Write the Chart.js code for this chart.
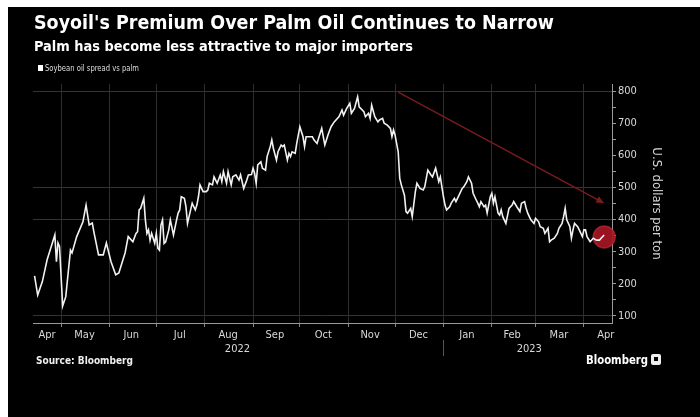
<!DOCTYPE html>
<html>
<head>
<meta charset="utf-8">
<script src="https://cdn.jsdelivr.net/npm/chart.js@4.4.0/dist/chart.umd.min.js"></script>
<style>
  html, body { margin: 0; padding: 0; width: 700px; height: 417px; overflow: hidden; background: #fff; }
  #panel { position: absolute; left: 8px; top: 7px; width: 692px; height: 410px; background: #000; }
  #box { position: absolute; left: 0; top: 0; width: 700px; height: 417px; }
  .t { position: absolute; color: #fff; white-space: nowrap; line-height: 1; transform-origin: 0 0;
       font-family: 'DejaVu Sans Condensed', 'DejaVu Sans', sans-serif; }
  #title { left: 34px; top: 12px; font-size: 20px; font-weight: bold; }
  #subtitle { left: 34px; top: 39px; font-size: 14px; font-weight: bold; }
  #legend { left: 45px; top: 64px; font-size: 9px; color: #ddd; }
  #legendBox { position: absolute; left: 38px; top: 65px; width: 5px; height: 6px; background: #fff; }
  #source { left: 36px; top: 356px; font-size: 10px; font-weight: bold; color: #eee; }
  #brand { left: 586px; top: 353px; font-size: 13px; font-weight: bold; }
  #brandIcon { position: absolute; left: 651px; top: 354px; width: 10px; height: 11px; background: #eee; border-radius: 2px; }
  #brandIcon i { position: absolute; left: 3px; top: 3px; width: 4px; height: 4px; background: #000; }
</style>
</head>
<body>
<div id="panel"></div>
<div id="box"><canvas id="chart"></canvas></div>
<div class="t" id="title">Soyoil's Premium Over Palm Oil Continues to Narrow</div>
<div class="t" id="subtitle">Palm has become less attractive to major importers</div>
<div id="legendBox"></div>
<div class="t" id="legend">Soybean oil spread vs palm</div>
<div class="t" id="source">Source: Bloomberg</div>
<div class="t" id="brand">Bloomberg</div>
<div id="brandIcon"><i></i></div>
<script>
// soybean oil minus palm oil, US$ per ton
const dates = [
  '2022-04-14','2022-04-16','2022-04-19','2022-04-22','2022-04-27','2022-04-28','2022-04-29','2022-04-30',
  '2022-05-02','2022-05-04','2022-05-07','2022-05-08','2022-05-11','2022-05-15','2022-05-17','2022-05-19','2022-05-21','2022-05-22','2022-05-25','2022-05-28','2022-05-30',
  '2022-06-02','2022-06-05','2022-06-07','2022-06-11','2022-06-13','2022-06-16','2022-06-18','2022-06-19','2022-06-20','2022-06-21','2022-06-23','2022-06-24','2022-06-25','2022-06-26','2022-06-27','2022-06-28','2022-06-30',
  '2022-07-01','2022-07-02','2022-07-03','2022-07-04','2022-07-05','2022-07-06','2022-07-07','2022-07-09','2022-07-10','2022-07-12','2022-07-14','2022-07-15','2022-07-16','2022-07-17','2022-07-19','2022-07-20','2022-07-21','2022-07-22','2022-07-24','2022-07-25','2022-07-26','2022-07-27','2022-07-28','2022-07-29','2022-07-31',
  '2022-08-02','2022-08-03','2022-08-04','2022-08-06','2022-08-07','2022-08-09','2022-08-11','2022-08-12','2022-08-13','2022-08-15','2022-08-16','2022-08-18','2022-08-19','2022-08-21','2022-08-23','2022-08-24','2022-08-26','2022-08-28','2022-08-29','2022-08-31',
  '2022-09-01','2022-09-02','2022-09-03','2022-09-04','2022-09-06','2022-09-07','2022-09-09','2022-09-10','2022-09-12','2022-09-13','2022-09-14','2022-09-16','2022-09-17','2022-09-19','2022-09-20','2022-09-21','2022-09-23','2022-09-24','2022-09-25','2022-09-26','2022-09-28','2022-09-29',
  '2022-10-01','2022-10-03','2022-10-04','2022-10-05','2022-10-07','2022-10-09','2022-10-10','2022-10-12','2022-10-13','2022-10-15','2022-10-17','2022-10-19','2022-10-21','2022-10-23','2022-10-26','2022-10-28','2022-10-29','2022-10-31',
  '2022-11-02','2022-11-03','2022-11-05','2022-11-07','2022-11-08','2022-11-11','2022-11-12','2022-11-14','2022-11-15','2022-11-16','2022-11-18','2022-11-20','2022-11-21','2022-11-23','2022-11-24','2022-11-26','2022-11-28','2022-11-29','2022-11-30',
  '2022-12-01','2022-12-03','2022-12-04','2022-12-05','2022-12-07','2022-12-08','2022-12-09','2022-12-11','2022-12-12','2022-12-14','2022-12-15','2022-12-17','2022-12-19','2022-12-20','2022-12-22','2022-12-24','2022-12-25','2022-12-27','2022-12-28','2022-12-29','2022-12-30','2022-12-31',
  '2023-01-01','2023-01-02','2023-01-03','2023-01-05','2023-01-06','2023-01-08','2023-01-09','2023-01-11','2023-01-13','2023-01-14','2023-01-16','2023-01-17','2023-01-19','2023-01-20','2023-01-22','2023-01-23','2023-01-24','2023-01-25','2023-01-27','2023-01-28','2023-01-29','2023-01-31',
  '2023-02-01','2023-02-02','2023-02-03','2023-02-05','2023-02-06','2023-02-07','2023-02-08','2023-02-10','2023-02-12','2023-02-14','2023-02-15','2023-02-17','2023-02-19','2023-02-20','2023-02-22','2023-02-23','2023-02-24','2023-02-26','2023-02-28',
  '2023-03-01','2023-03-03','2023-03-04','2023-03-06','2023-03-07','2023-03-09','2023-03-10','2023-03-11','2023-03-13','2023-03-15','2023-03-16','2023-03-18','2023-03-19','2023-03-20','2023-03-21','2023-03-23','2023-03-24','2023-03-25','2023-03-26','2023-03-28','2023-03-29','2023-03-31',
  '2023-04-01','2023-04-02','2023-04-03','2023-04-05','2023-04-07','2023-04-09','2023-04-11','2023-04-12','2023-04-14'
];
const spread = [
  225,165,207,274,352,269,327,316,
  131,160,305,296,347,393,445,383,389,362,290,290,327,
  269,228,234,296,347,331,357,362,430,435,466,399,357,368,336,357,326,
  357,311,305,383,399,326,331,368,399,352,399,420,430,471,466,440,388,409,451,440,430,445,471,508,487,
  487,492,513,508,533,513,539,518,549,513,549,508,533,539,523,539,497,523,539,540,
  560,544,513,570,580,560,554,596,627,648,622,585,611,632,627,632,585,606,596,611,606,637,
  689,658,627,658,658,658,648,637,653,684,632,663,689,704,720,741,725,746,
  762,731,746,782,751,736,720,731,715,756,720,704,710,715,700,694,684,658,679,
  663,611,528,508,476,425,420,435,409,487,513,497,492,502,554,539,533,560,539,518,533,502,
  471,445,430,440,451,466,456,476,497,502,518,533,513,482,461,451,440,456,440,445,420,471,
  482,451,471,420,414,430,409,388,435,445,456,440,425,451,456,435,420,399,388,
  404,393,378,373,357,373,331,336,342,357,373,388,409,435,399,378,342,368,388,378,368,347,
  368,368,347,331,342,336,336,342,352
];

const monthStarts = ['2022-05-01','2022-06-01','2022-07-01','2022-08-01','2022-09-01','2022-10-01',
  '2022-11-01','2022-12-01','2023-01-01','2023-02-01','2023-03-01','2023-04-01'];
const monthLabels = ['Apr','May','Jun','Jul','Aug','Sep','Oct','Nov','Dec','Jan','Feb','Mar','Apr'];
const monthLabelDates = ['2022-04-22','2022-05-16','2022-06-15','2022-07-16','2022-08-16','2022-09-15',
  '2022-10-16','2022-11-15','2022-12-16','2023-01-16','2023-02-14','2023-03-16','2023-04-15'];
const yearLabels = ['2022','2023'];
const yearLabelDates = ['2022-08-22','2023-02-25'];
const yearBreak = '2023-01-01';
const xRange = ['2022-04-13','2023-04-19'];

const yTicks = [100,150,200,250,300,350,400,450,500,550,600,650,700,750,800];
const yGridAt = [100,400,500,800];

// trend arrow (data space) and the highlighted latest point
const arrowFrom = ['2022-12-03', 797];
const arrowTo = ['2023-04-14', 451];

const dayOf = s => (Date.parse(s) - Date.parse('2022-05-01')) / 864e5;

const xTicks = [
  ...monthStarts.map(d => ({ value: dayOf(d), label: '', start: true })),
  ...monthLabelDates.map((d, i) => ({ value: dayOf(d), label: monthLabels[i] })),
  ...yearLabelDates.map((d, i) => ({ value: dayOf(d), label: ['', yearLabels[i]] }))
].sort((a, b) => a.value - b.value);

const FONT = "'Liberation Sans Narrow', 'DejaVu Sans Condensed', sans-serif";
const CLEAR = 'rgba(0,0,0,0)';

const extras = {
  id: 'extras',
  beforeDatasetsDraw(chart) {
    const { ctx, scales: { x, y } } = chart;
    const last = dates.length - 1;
    const cx = x.getPixelForValue(dayOf(dates[last]));
    const cy = y.getPixelForValue(spread[last]);
    ctx.save();
    ctx.beginPath();
    ctx.arc(cx, cy + 2, 11, 0, Math.PI * 2);
    ctx.fillStyle = 'rgba(165,22,36,0.92)';
    ctx.fill();
    ctx.lineWidth = 1.5;
    ctx.strokeStyle = 'rgba(205,45,55,0.6)';
    ctx.stroke();

    const x1 = x.getPixelForValue(dayOf(arrowFrom[0])), y1 = y.getPixelForValue(arrowFrom[1]);
    const x2 = x.getPixelForValue(dayOf(arrowTo[0])), y2 = y.getPixelForValue(arrowTo[1]);
    const a = Math.atan2(y2 - y1, x2 - x1);
    ctx.strokeStyle = '#7a1b1e';
    ctx.fillStyle = '#7a1b1e';
    ctx.lineWidth = 1.4;
    ctx.beginPath();
    ctx.moveTo(x1, y1);
    ctx.lineTo(x2 - 5 * Math.cos(a), y2 - 5 * Math.sin(a));
    ctx.stroke();
    ctx.beginPath();
    ctx.moveTo(x2, y2);
    ctx.lineTo(x2 - 8 * Math.cos(a) + 3.5 * Math.sin(a), y2 - 8 * Math.sin(a) - 3.5 * Math.cos(a));
    ctx.lineTo(x2 - 8 * Math.cos(a) - 3.5 * Math.sin(a), y2 - 8 * Math.sin(a) + 3.5 * Math.cos(a));
    ctx.closePath();
    ctx.fill();
    ctx.restore();
  },
  afterDraw(chart) {
    const { ctx, chartArea, scales: { x } } = chart;
    const px = Math.round(x.getPixelForValue(dayOf(yearBreak))) + 0.5;
    ctx.save();
    ctx.strokeStyle = '#555';
    ctx.lineWidth = 1;
    ctx.beginPath();
    ctx.moveTo(px, chartArea.bottom + 17);
    ctx.lineTo(px, chartArea.bottom + 33);
    ctx.stroke();
    ctx.restore();
  }
};

new Chart(document.getElementById('chart'), {
  type: 'line',
  data: {
    datasets: [{
      label: 'Soybean oil spread vs palm',
      data: dates.map((d, i) => ({ x: dayOf(d), y: spread[i] })),
      borderColor: '#f2f2f2',
      borderWidth: 1.6,
      pointRadius: 0,
      tension: 0
    }]
  },
  options: {
    responsive: true,
    maintainAspectRatio: false,
    animation: false,
    layout: { padding: { left: 33, top: 84, right: 36, bottom: 60 } },
    plugins: { legend: { display: false }, tooltip: { enabled: false } },
    scales: {
      x: {
        type: 'linear',
        min: dayOf(xRange[0]),
        max: dayOf(xRange[1]),
        afterBuildTicks: s => { s.ticks = xTicks.map(t => ({ value: t.value })); },
        afterFit: s => { s.height = 34; },
        grid: {
          color: c => (c.tick && xTicks[c.index] && xTicks[c.index].start) ? '#2e2e2e' : CLEAR,
          tickColor: c => (xTicks[c.index] && xTicks[c.index].start) ? '#888' : CLEAR,
          tickLength: 4
        },
        border: { color: '#9a9a9a' },
        ticks: {
          autoSkip: false, maxRotation: 0, padding: 2, color: '#d8d8d8',
          font: { family: FONT, size: 11 },
          callback: (v, i) => xTicks[i] ? xTicks[i].label : ''
        }
      },
      y: {
        position: 'right',
        min: 78,
        max: 822,
        afterBuildTicks: s => { s.ticks = yTicks.map(v => ({ value: v })); },
        afterFit: s => { s.width = 52; },
        grid: {
          color: c => (c.tick && yGridAt.includes(c.tick.value)) ? '#333' : CLEAR,
          tickColor: '#9a9a9a',
          tickLength: 4
        },
        border: { color: '#9a9a9a' },
        ticks: {
          autoSkip: false, padding: 2, color: '#d8d8d8',
          font: { family: FONT, size: 11 },
          callback: v => (v % 100 === 0 ? v : '')
        },
        title: {
          display: true, text: 'U.S. dollars per ton', color: '#d8d8d8',
          font: { family: FONT, size: 13 }, padding: 0
        }
      }
    }
  },
  plugins: [extras]
});

// squeeze the html text to the widths seen in the picture
function fitWidth(id, w) {
  const el = document.getElementById(id);
  const r = el.getBoundingClientRect().width;
  el.style.transform = 'scaleX(' + (w / r) + ')';
}
fitWidth('title', 520);
fitWidth('subtitle', 379);
fitWidth('legend', 94);
fitWidth('source', 97);
fitWidth('brand', 62);
</script>
</body>
</html>
